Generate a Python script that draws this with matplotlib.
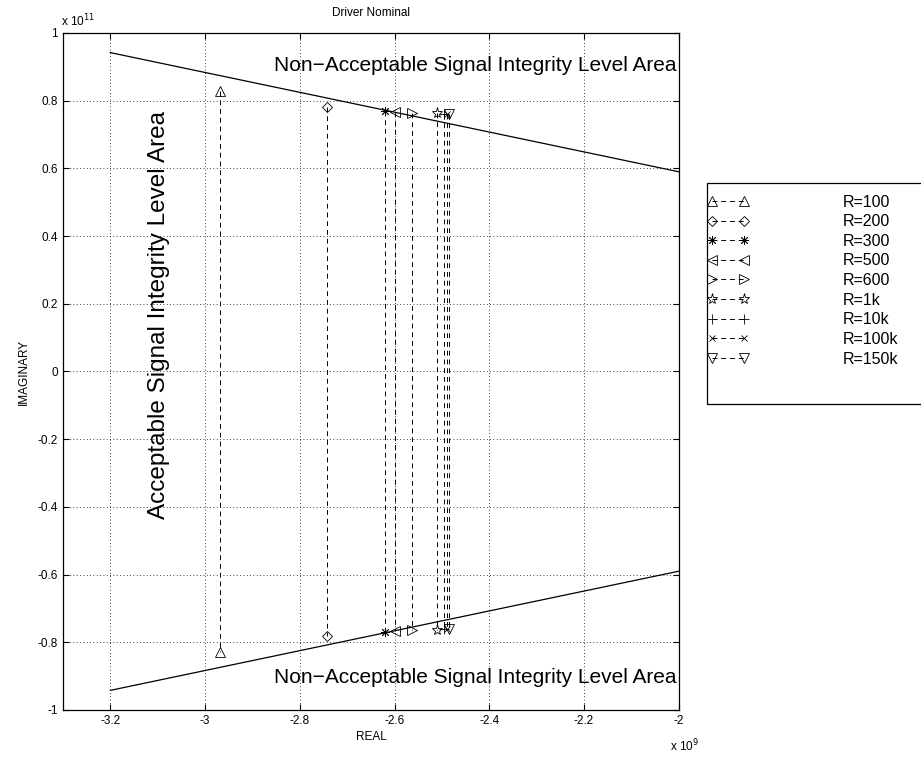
import matplotlib
matplotlib.use('Agg')
import matplotlib.pyplot as plt
from matplotlib.patches import Rectangle
from matplotlib.ticker import FuncFormatter, MultipleLocator

plt.rcParams['font.family'] = ['Liberation Sans', 'DejaVu Sans']

# pole pairs for each load resistance (real in 1e9, imaginary in 1e11)
labels = ['R=100', 'R=200', 'R=300', 'R=500', 'R=600', 'R=1k', 'R=10k', 'R=100k', 'R=150k']
real_part = [-2.968, -2.742, -2.621, -2.600, -2.564, -2.511, -2.495, -2.490, -2.486]
imag_part = [0.830, 0.782, 0.771, 0.767, 0.765, 0.763, 0.761, 0.761, 0.760]
markers = ['^', 'D', (8, 2, 0), '<', '>', '*', '+', 'x', 'v']
msizes = [7, 5.5, 6.5, 7, 7, 8, 7, 5, 7]

# boundary lines
bound_x = [-3.2, -2.0]
bound_y = [0.942, 0.59]

fig = plt.figure(figsize=(9.21, 7.6), dpi=100)
ax = fig.add_axes([0.0684, 0.0658, 0.737 - 0.0684, 0.9566 - 0.0658])

ax.plot([v * 1e9 for v in bound_x], [v * 1e11 for v in bound_y], color='k', lw=0.9)
ax.plot([v * 1e9 for v in bound_x], [-v * 1e11 for v in bound_y], color='k', lw=0.9)

for lab, re, im, mk, ms in zip(labels, real_part, imag_part, markers, msizes):
    ax.plot([re * 1e9, re * 1e9], [im * 1e11, -im * 1e11], ls=(0, (5, 4)), color='k', lw=0.7,
            marker=mk, ms=ms, mfc='none', mec='k', mew=0.6, label=lab)

ax.set_xlim(-3.3e9, -2.0e9)
ax.set_ylim(-1e11, 1e11)
ax.xaxis.set_major_locator(MultipleLocator(0.2e9))
ax.yaxis.set_major_locator(MultipleLocator(0.2e11))
ax.xaxis.set_major_formatter(FuncFormatter(lambda v, p: '%g' % round(v / 1e9, 4)))
ax.yaxis.set_major_formatter(FuncFormatter(lambda v, p: '%g' % round(v / 1e11, 4)))
ax.tick_params(direction='in', top=True, right=True, labelsize=8.5, length=4)
ax.grid(True, ls=(0, (1, 3)), color='k', lw=0.6)
for s in ax.spines.values():
    s.set_linewidth(0.9)

ax.set_title('Driver Nominal', fontsize=8.5, pad=12)
ax.set_xlabel('REAL', fontsize=8.5, labelpad=3)
ax.set_ylabel('IMAGINARY', fontsize=8.5, labelpad=6)

fig.text(0.066, 0.962, r'x 10$^{11}$', fontsize=8.5, ha='left', va='bottom')
fig.text(0.728, 0.008, r'x 10$^{9}$', fontsize=8.5, ha='left', va='bottom')

ax.text(-2.005e9, 0.905e11, 'Non\u2212Acceptable Signal Integrity Level Area', fontsize=15,
        ha='right', va='center')
ax.text(-2.005e9, -0.905e11, 'Non\u2212Acceptable Signal Integrity Level Area', fontsize=15,
        ha='right', va='center')
ax.text(-3.097e9, 0.168e11, 'Acceptable Signal Integrity Level Area', fontsize=17.5,
        ha='center', va='center', rotation=90)

leg = fig.legend(loc='upper left', bbox_to_anchor=(707 / 921, 0.744), fontsize=11.5, numpoints=2,
                 handlelength=2.6, handletextpad=5.9, labelspacing=0.29, borderpad=0,
                 borderaxespad=0, frameon=False)
fig.patches.append(Rectangle((707 / 921, 1 - 404 / 760), 0.3, (404 - 183) / 760,
                             transform=fig.transFigure, fill=False, ec='k', lw=0.9))

fig.savefig('out.png', dpi=100)
